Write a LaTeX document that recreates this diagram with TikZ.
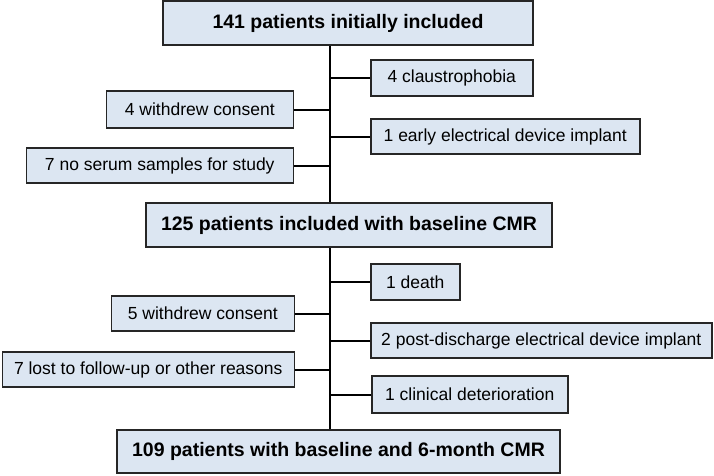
\documentclass[tikz,border=0pt]{standalone}
\usepackage{fontspec}
\setmainfont{Liberation Sans}
\usetikzlibrary{positioning}
\definecolor{boxblue}{RGB}{220,230,242}

\begin{document}
\begin{tikzpicture}[x=1pt, y=-1pt,
        mainbox/.style={rectangle, draw=black!85, fill=boxblue, line width=1.5pt, minimum height=44pt, font=\fontsize{19.5}{22}\selectfont\bfseries},
        sidebox/.style={rectangle, draw=black!85, fill=boxblue, line width=1.5pt, minimum height=36pt, inner xsep=0pt, font=\fontsize{17.5}{20}\selectfont},
        link/.style={line width=2pt}]
        \useasboundingbox (0,0) rectangle (714,475);

        \node[mainbox, minimum width=370pt] (initial) at (348,23) {141 patients initially included};
        \node[mainbox, minimum width=406pt] (baseline) at (349,225) {125 patients included with baseline CMR};
        \node[mainbox, minimum width=443pt, minimum height=43pt] (final) at (338.5,451.5) {109 patients with baseline and 6-month CMR};

        \coordinate (trunk) at (330,0);

        % excluded before baseline
        \node[sidebox, anchor=west, minimum width=162pt] (claus) at (370,78) {4 claustrophobia};
        \node[sidebox, anchor=west, minimum width=269pt, minimum height=35pt] (early) at (370,136.5) {1 early electrical device implant};
        \node[sidebox, anchor=east, minimum width=187pt, minimum height=37pt] (withdrewA) at (294,109.5) {4 withdrew consent};
        \node[sidebox, anchor=east, minimum width=267pt, minimum height=35pt] (serum) at (294,165.5) {7 no serum samples for study};

        % lost before 6 months
        \node[sidebox, anchor=west, minimum width=89pt] (death) at (370,282) {1 death};
        \node[sidebox, anchor=west, minimum width=341pt, minimum height=35pt] (post) at (370,340.5) {2 post-discharge electrical device implant};
        \node[sidebox, anchor=west, minimum width=196pt, minimum height=37pt] (clinical) at (371,394.5) {1 clinical deterioration};
        \node[sidebox, anchor=east, minimum width=183pt, minimum height=35pt] (withdrewB) at (295,313.5) {5 withdrew consent};
        \node[sidebox, anchor=east, minimum width=292pt, minimum height=35pt] (lost) at (295,369.5) {7 lost to follow-up or other reasons};

        \draw[link] (initial.south -| trunk) -- (baseline.north -| trunk);
        \draw[link] (baseline.south -| trunk) -- (final.north -| trunk);

        \foreach \n in {claus, early, death, post, clinical}
            \draw[link] (\n.west) -- (\n.west -| trunk);
        \foreach \n in {withdrewA, serum, withdrewB, lost}
            \draw[link] (\n.east) -- (\n.east -| trunk);

\end{tikzpicture}
\end{document}
